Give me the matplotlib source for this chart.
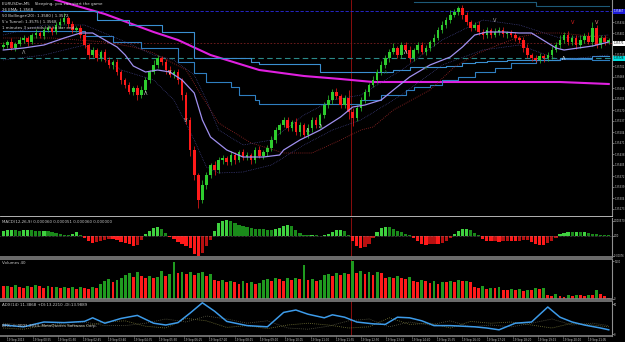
import numpy as np
import matplotlib.pyplot as plt

plt.rcParams["font.family"] = ["DejaVu Sans"]

# --- EURUSD M5 candles (close prices), first open ---
first_open = 1.35760
close = [
    1.35765, 1.35774, 1.35756, 1.35768, 1.35780,
    1.35786, 1.35774, 1.35795, 1.35801, 1.35792,
    1.35810, 1.35816, 1.35804, 1.35825, 1.35834,
    1.35846, 1.35828, 1.35810, 1.35816, 1.35795,
    1.35765, 1.35735, 1.35750, 1.35726, 1.35744,
    1.35720, 1.35705, 1.35714, 1.35684, 1.35660,
    1.35645, 1.35624, 1.35636, 1.35615, 1.35630,
    1.35660, 1.35684, 1.35705, 1.35726, 1.35714,
    1.35690, 1.35675, 1.35684, 1.35660, 1.35615,
    1.35540, 1.35450, 1.35375, 1.35300, 1.35345,
    1.35375, 1.35405, 1.35390, 1.35420, 1.35426,
    1.35414, 1.35435, 1.35420, 1.35444, 1.35429,
    1.35435, 1.35420, 1.35450, 1.35432, 1.35444,
    1.35456, 1.35480, 1.35510, 1.35525, 1.35540,
    1.35516, 1.35534, 1.35504, 1.35525, 1.35495,
    1.35516, 1.35540, 1.35525, 1.35555, 1.35585,
    1.35600, 1.35624, 1.35612, 1.35585, 1.35606,
    1.35564, 1.35546, 1.35576, 1.35600, 1.35624,
    1.35645, 1.35660, 1.35684, 1.35705, 1.35726,
    1.35744, 1.35756, 1.35735, 1.35765, 1.35750,
    1.35726, 1.35750, 1.35765, 1.35744, 1.35756,
    1.35774, 1.35786, 1.35810, 1.35825, 1.35840,
    1.35855, 1.35864, 1.35876, 1.35855, 1.35834,
    1.35816, 1.35825, 1.35804, 1.35795, 1.35810,
    1.35795, 1.35804, 1.35810, 1.35798, 1.35801,
    1.35795, 1.35786, 1.35780, 1.35756, 1.35735,
    1.35726, 1.35720, 1.35732, 1.35726, 1.35735,
    1.35750, 1.35765, 1.35780, 1.35795, 1.35774,
    1.35786, 1.35765, 1.35780, 1.35792, 1.35774,
    1.35816, 1.35765, 1.35786, 1.35774, 1.35780,
]
# wick lengths in points (1e-5)
wick_hi = [
    9, 6, 12, 5, 8, 10, 7, 6, 11, 5, 9, 8, 6, 10, 12, 15, 7, 9, 6, 8,
    12, 6, 9, 7, 5, 8, 10, 6, 9, 7, 5, 8, 6, 9, 12, 10, 7, 15, 9, 6,
    8, 11, 7, 9, 6, 10, 8, 12, 7, 15, 9, 6, 11, 8, 10, 7, 12, 9, 6, 8,
    10, 7, 9, 11, 6, 8, 12, 9, 7, 10, 8, 6, 11, 9, 7, 12, 8, 10, 6, 9,
    14, 8, 11, 7, 9, 25, 12, 8, 10, 9, 7, 11, 9, 12, 8, 10, 15, 7, 9, 8,
    11, 6, 9, 10, 8, 7, 12, 9, 11, 8, 14, 10, 7, 9, 8, 6, 10, 12, 8, 9,
    7, 11, 8, 9, 6, 10, 8, 7, 9, 12, 6, 8, 10, 7, 9, 11, 8, 15, 9, 12,
    10, 8, 14, 9, 11, 18, 9, 10, 8, 6,
]
wick_lo = [
    7, 10, 6, 9, 5, 8, 12, 6, 9, 7, 10, 5, 8, 6, 9, 7, 11, 8, 6, 10,
    9, 12, 7, 10, 8, 6, 9, 11, 8, 12, 10, 7, 9, 14, 8, 6, 10, 7, 9, 8,
    12, 6, 9, 11, 15, 12, 18, 14, 24, 10, 12, 8, 14, 9, 11, 8, 10, 12, 7, 9,
    8, 11, 9, 7, 10, 12, 8, 9, 11, 7, 10, 9, 8, 12, 7, 9, 11, 8, 10, 9,
    8, 12, 9, 10, 8, 22, 25, 10, 8, 9, 11, 7, 10, 8, 9, 12, 7, 10, 8, 9,
    11, 8, 10, 7, 9, 8, 12, 7, 9, 10, 8, 6, 9, 11, 8, 10, 7, 9, 12, 8,
    10, 7, 9, 8, 11, 6, 10, 9, 12, 8, 10, 7, 9, 11, 8, 12, 6, 9, 10, 8,
    9, 11, 8, 10, 7, 12, 9, 8, 10, 6,
]

# --- MACD histogram, points (1e-5) ---
macd_hist = [
    20, 22, 23, 21, 19, 22, 24, 21, 20, 18, 19, 17, 16,
    12, 9, 5, 3, 8, 13, 4,
    -8, -19, -27, -22, -19, -14, -10, -12, -15, -22, -27, -32, -38, -34, -15,
    8, 19, 30, 34, 27, 12,
    -4, -10, -22, -30, -38, -46, -68, -76, -65, -40, -15,
    20, 50, 58, 61, 57, 50, 42, 38, 34, 30, 28, 27, 25, 24, 23, 26, 30, 38,
    42, 36, 23, 12, 5, 3, 4, 2, 1, 3, 8, 15, 22, 23, 18, 4,
    -20, -38, -46, -42, -30, -8,
    15, 30, 34, 32, 27, 20, 14, 8, 4,
    -8, -20, -30, -34, -32, -30, -31, -27, -18, -6,
    8, 18, 25, 27, 22, 12, 4,
    -10, -19, -21, -20, -22, -21, -19, -20, -21, -18, -16, -14, -22, -30,
    -34, -34, -28, -18, -6,
    8, 12, 15, 14, 15, 13, 15, 12, 9, 6, 5, 3, 2,
]

# --- tick volumes ---
volume = [
    540, 560, 500, 580, 520, 470, 550, 510, 590, 530, 480, 560, 500, 520, 470,
    490, 450, 520, 430, 500, 470, 440, 510, 460,
    620, 760, 850, 700, 820, 900,
    1000, 1080, 920, 1150, 980,
    900, 960, 880, 940, 1170, 980, 1050, 1550,
    1100, 1160, 1050, 1120, 1000, 1080, 1130, 990, 1040,
    800, 760, 820, 720, 780,
    700, 650, 740, 680, 720, 640, 690,
    800, 860, 760, 900, 840, 780, 880, 820, 900, 860,
    1450, 800, 840, 780, 820,
    1000, 1060, 960, 1080, 1020, 1100, 1040,
    1600, 1100, 1180, 1050, 1120, 1000, 1150, 1080,
    900, 940, 870, 960, 900, 850, 920,
    780, 700, 820, 740, 680, 760, 650, 720, 700,
    760, 720, 800, 740, 780, 700,
    500, 460, 540, 420, 480, 450, 520,
    400, 380, 440, 360, 420, 350, 400, 380,
    460, 420, 480,
    180, 120, 200, 140, 100, 160, 130, 180,
    170, 140, 190, 160, 380, 200, 120, 40,
]

# --- ADX(14) ---
adx_bar = [0, 5, 10, 15, 20, 22, 25, 29, 33, 37, 40, 43, 46, 49, 52, 55, 60,
           65, 69, 72, 75, 79, 81, 84, 87, 91, 94, 97, 100, 103, 106, 110,
           113, 116, 119, 122, 126, 130, 134, 137, 140, 143, 147, 149]
adx_val = [15, 12, 20, 19, 21, 27, 18, 26, 31, 18, 15, 19, 35, 52, 38, 21, 14,
           12, 36, 40, 33, 27, 32, 28, 20, 17, 16, 28, 27, 22, 14, 14,
           13, 12, 10, 7, 18, 20, 45, 28, 20, 15, 10, 7]
di_bar = [0, 5, 10, 15, 20, 25, 30, 35, 40, 45, 50, 55, 60, 65, 70, 75, 80,
          85, 90, 95, 100, 105, 110, 115, 120, 125, 130, 135, 140, 145, 149]
di_plus = [10, 8, 14, 15, 13, 20, 22, 13, 10, 26, 22, 11, 14, 9, 15, 18, 15,
           10, 12, 27, 16, 18, 10, 21, 18, 20, 15, 10, 18, 15, 12]
di_minus = [18, 15, 13, 19, 20, 14, 14, 18, 25, 20, 30, 25, 18, 22, 10, 8, 13,
            22, 25, 12, 20, 15, 22, 12, 15, 12, 18, 25, 15, 18, 14]

# --- moving averages / channels on the price chart ---
ma_fast_bar = [0, 5, 10, 15, 19, 22, 25, 28, 30, 32, 35, 38, 41, 44, 47, 49,
               51, 55, 59, 64, 68, 69, 73, 78, 83, 86, 89, 93, 96, 100, 105,
               110, 113, 116, 119, 123, 127, 130, 132, 136, 138, 145, 149]
ma_fast = [1.35750, 1.35756, 1.35765, 1.35786, 1.35801, 1.35801, 1.35780,
           1.35759, 1.35735, 1.35702, 1.35684, 1.35690, 1.35684, 1.35660,
           1.35621, 1.35540, 1.35489, 1.35450, 1.35429, 1.35429, 1.35435,
           1.35450, 1.35480, 1.35510, 1.35549, 1.35579, 1.35585, 1.35600,
           1.35630, 1.35669, 1.35705, 1.35729, 1.35759, 1.35795, 1.35804,
           1.35804, 1.35801, 1.35801, 1.35786, 1.35756, 1.35750, 1.35762,
           1.35774]
ma_slow_bar = [0, 12, 25, 32, 37, 45, 49, 53, 61, 69, 76, 83, 88, 91, 96, 105,
               111, 117, 123, 127, 132, 137, 149]
ma_slow = [1.35786, 1.35786, 1.35774, 1.35759, 1.35741, 1.35690, 1.35609,
           1.35531, 1.35471, 1.35441, 1.35441, 1.35480, 1.35510, 1.35519,
           1.35570, 1.35630, 1.35699, 1.35741, 1.35771, 1.35789, 1.35801,
           1.35801, 1.35786]
ma_long_bar = [8, 13, 25, 37, 43, 51, 63, 74, 83, 91, 103, 123, 137, 149]
ma_long = [1.35924, 1.35900, 1.35858, 1.35804, 1.35780, 1.35735, 1.35690,
           1.35672, 1.35663, 1.35654, 1.35654, 1.35654, 1.35654, 1.35648]
env_bar = [0, 10, 20, 29, 37, 42, 47, 50, 53, 59, 66, 74, 81, 88, 98, 108,
           118, 127, 137, 149]
env_low = [1.35720, 1.35735, 1.35765, 1.35690, 1.35660, 1.35600, 1.35480,
           1.35399, 1.35381, 1.35384, 1.35405, 1.35465, 1.35510, 1.35540,
           1.35615, 1.35705, 1.35750, 1.35765, 1.35720, 1.35735]
env_up = [1.35795, 1.35825, 1.35825, 1.35780, 1.35735, 1.35720, 1.35675,
          1.35600, 1.35510, 1.35465, 1.35480, 1.35555, 1.35600, 1.35615,
          1.35690, 1.35780, 1.35840, 1.35825, 1.35786, 1.35795]
chan_a_bar = [0, 20, 27, 34, 43, 47, 50, 56, 58, 62, 63, 88, 93, 99, 101, 105,
              108, 112, 116, 121, 125, 131, 137, 145, 149]
chan_a = [1.35807, 1.35792, 1.35774, 1.35756, 1.35714, 1.35681, 1.35654,
          1.35639, 1.35615, 1.35600, 1.35588, 1.35600, 1.35615, 1.35630,
          1.35639, 1.35645, 1.35660, 1.35669, 1.35684, 1.35696, 1.35711,
          1.35720, 1.35723, 1.35720, 1.35720]
chan_b_bar = [0, 23, 31, 39, 47, 61, 63, 78, 96, 100, 109, 113, 116, 119, 124,
              137, 145, 149]
chan_b = [1.35867, 1.35840, 1.35825, 1.35804, 1.35726, 1.35714, 1.35708,
          1.35684, 1.35690, 1.35699, 1.35702, 1.35711, 1.35714, 1.35717,
          1.35720, 1.35726, 1.35732, 1.35732]
chan_c_bar = [101, 131, 149]
chan_c = [1.35894, 1.35882, 1.35882]

# horizontal levels
level_blue = 1.35867
level_red = 1.35771
level_teal = 1.35726

# arrow signals: bar, price, glyph, colour
sig_bar = [5, 35, 41, 45, 75, 78, 94, 99, 104, 121, 138, 140, 146]
sig_price = [1.35741, 1.35621, 1.35681, 1.35540, 1.35510, 1.35522, 1.35684,
             1.35744, 1.35696, 1.35840, 1.35726, 1.35834, 1.35834]
sig_glyph = ["Λ", "Λ", "V", "V", "Λ", "Λ", "Λ", "Λ", "Λ", "V", "Λ", "V", "V"]
sig_color = ["#b0b0b0", "#e0e0e0", "#e0e0e0", "#c0c0c0", "#c0c0c0", "#e0e0e0",
             "#1f7a1f", "#ffffff", "#1f7a1f", "#b0b0b0", "#ffffff", "#e02020",
             "#ff8080"]

marker_bar = 85.5  # red vertical line

price_ticks = [1.35867, 1.35834, 1.35801, 1.35768, 1.35735, 1.35702, 1.35669,
               1.35636, 1.35603, 1.35570, 1.35537, 1.35504, 1.35471, 1.35438,
               1.35405, 1.35372, 1.35339, 1.35306, 1.35273]
time_labels = ["19 Sep 2013", "19 Sep 00:55", "19 Sep 01:50", "19 Sep 02:45",
               "19 Sep 03:40", "19 Sep 04:35", "19 Sep 05:30", "19 Sep 06:25",
               "19 Sep 07:20", "19 Sep 08:15", "19 Sep 09:10", "19 Sep 10:05",
               "19 Sep 11:00", "19 Sep 11:55", "19 Sep 12:50", "19 Sep 13:45",
               "19 Sep 14:40", "19 Sep 15:35", "19 Sep 16:30", "19 Sep 17:25",
               "19 Sep 18:20", "19 Sep 19:15", "19 Sep 20:10", "19 Sep 21:05"]
info_lines = ["EURUSDm,M5    Sleeping, you can start the game",
              "26 EMA: 1.3568",
              "50 Bollinger(20): 1.3580 | 1.3572",
              "5'x Tunnel: 1.3575 | 1.3568",
              "1 minutes 3 seconds left to bar end"]

GRID = "#808080"
TXT = "#c8c8c8"
AX_FS = 1.8


def style(ax, n):
    ax.set_facecolor("black")
    ax.set_xlim(-0.8, n - 0.2)
    ax.spines["left"].set_visible(False)
    ax.spines["right"].set_color("#909090")
    ax.spines["right"].set_linewidth(0.8)
    for s in ("top", "bottom"):
        ax.spines[s].set_color(GRID)
        ax.spines[s].set_linewidth(1.2)
    ax.yaxis.tick_right()
    ax.tick_params(axis="y", colors=TXT, labelsize=AX_FS, length=1.2,
                   width=0.4, pad=0.4)
    ax.tick_params(axis="x", bottom=False, labelbottom=False)
    ax.axvline(marker_bar, color="#a01010", lw=0.6, zorder=1)


def main():
    n = len(close)
    x = np.arange(n)
    c = np.array(close)
    o = np.concatenate([[first_open], c[:-1]])
    hi = np.maximum(o, c) + np.array(wick_hi) * 1e-5
    lo = np.minimum(o, c) - np.array(wick_lo) * 1e-5
    up = c >= o
    ccol = np.where(up, "#2ecc2e", "#ff1a1a")

    fig = plt.figure(figsize=(6.25, 3.42), dpi=100, facecolor="black")
    W = 612 / 625
    H = 342
    ax = fig.add_axes([0, 1 - 216 / H, W, 216 / H])
    ax_m = fig.add_axes([0, 1 - 257 / H, W, 39 / H])
    ax_v = fig.add_axes([0, 1 - 299 / H, W, 40 / H])
    ax_a = fig.add_axes([0, 1 - 336 / H, W, 35 / H])
    for a in (ax, ax_m, ax_v, ax_a):
        style(a, n)

    # ---- price panel ----
    ax.set_ylim(1.35252, 1.35900)
    ax.spines["top"].set_visible(False)
    ax.spines["bottom"].set_color("#d0d0d0")
    ax.spines["bottom"].set_linestyle((0, (1, 1)))
    ax.spines["bottom"].set_linewidth(0.6)

    ax.axhline(level_blue, color="#2a2ae0", lw=0.6, ls=(0, (4, 2)), zorder=1)
    ax.axhline(level_red, color="#7a2020", lw=0.6, ls=(0, (2, 2)), zorder=1)
    ax.axhline(level_teal, color="#2a8a8a", lw=0.8, ls=(0, (5, 3)), zorder=1)

    ax.plot(ma_long_bar, ma_long, color="#e020e0", lw=1.5, zorder=2)
    ax.plot(chan_a_bar, chan_a, color="#2f7fc0", lw=0.8,
            drawstyle="steps-post", zorder=2)
    ax.plot(chan_b_bar, chan_b, color="#3a8fd0", lw=0.8,
            drawstyle="steps-post", zorder=2)
    ax.plot(chan_c_bar, chan_c, color="#1d5a78", lw=0.8,
            drawstyle="steps-post", zorder=2)
    ax.plot(ma_slow_bar, ma_slow, color="#a02828", lw=0.6, ls=(0, (1, 1.5)),
            zorder=2)
    ax.plot(env_bar, env_low, color="#4b4b9b", lw=0.5, ls=(0, (1, 1.5)),
            zorder=2)
    ax.plot(env_bar, env_up, color="#4b4b9b", lw=0.5, ls=(0, (1, 1.5)),
            zorder=2)

    ax.vlines(x, lo, hi, colors=ccol, lw=0.5, zorder=3)
    body = np.maximum(np.abs(c - o), 0.000012)
    ax.bar(x, body, bottom=np.minimum(o, c), width=0.62, color=ccol,
           linewidth=0, zorder=3)

    ax.plot(ma_fast_bar, ma_fast, color="#a090f0", lw=0.9, zorder=4)

    for b, p, g, col in zip(sig_bar, sig_price, sig_glyph, sig_color):
        ax.text(b, p, g, color=col, fontsize=3.6, ha="center", va="center",
                zorder=5)

    ax.set_yticks(price_ticks)
    ax.set_yticklabels([f"{v:.5f}" for v in price_ticks])
    ytr = ax.get_yaxis_transform()
    for val, fc, tc in ((level_blue, "#1c1cd8", "white"),
                        (level_red, "white", "black"),
                        (level_teal, "#00e0e0", "black")):
        ax.text(1.003, val, f"{val:.5f}", transform=ytr, fontsize=AX_FS,
                color=tc, va="center", ha="left", clip_on=False,
                bbox=dict(boxstyle="square,pad=0.2", fc=fc, ec="none"))

    for k, line in enumerate(info_lines):
        ax.text(0.004, 0.992 - k * 0.028, line, transform=ax.transAxes,
                fontsize=2.9, color="#d8d8d8", va="top", ha="left")

    # ---- MACD panel ----
    h = np.array(macd_hist) * 1e-5
    prev = np.concatenate([[h[0]], h[:-1]])
    mcol = np.where(h >= 0,
                    np.where(h >= prev, "#3fd13f", "#1a8a1a"),
                    np.where(h <= prev, "#ff1a1a", "#b81010"))
    ax_m.bar(x, h, width=0.8, color=mcol, linewidth=0, zorder=2)
    ax_m.set_ylim(-0.00080, 0.00068)
    ax_m.axhline(0, color="#9a9a9a", lw=0.4, ls=(0, (1, 1.5)), zorder=3)
    ax_m.spines["top"].set_visible(False)
    ax_m.set_yticks([0.00057, 0.0, -0.00076])
    ax_m.set_yticklabels(["0.000570", "0.00", "-0.00076"])
    ax_m.text(0.004, 0.95, "MACD(12,26,9) 0.000060 0.000051 0.000060 0.000000",
              transform=ax_m.transAxes, fontsize=2.9, color=TXT, va="top")

    # ---- Volume panel ----
    v = np.array(volume)
    vprev = np.concatenate([[v[0]], v[:-1]])
    vcol = np.where(v > vprev, "#1f9a1f", "#ff1a1a")
    ax_v.bar(x, v, width=0.7, color=vcol, linewidth=0, zorder=2)
    ax_v.set_ylim(0, 1690)
    ax_v.set_yticks([1600, 0])
    ax_v.set_yticklabels(["1600", "0"])
    ax_v.text(0.004, 0.95, "Volumes 40", transform=ax_v.transAxes,
              fontsize=2.9, color=TXT, va="top")

    # ---- ADX panel ----
    ax_a.plot(di_bar, di_plus, color="#7a7a3a", lw=0.6, ls=(0, (1, 1.5)),
              zorder=2)
    ax_a.plot(di_bar, di_minus, color="#5a5a45", lw=0.6, ls=(0, (1, 1.5)),
              zorder=2)
    ax_a.plot(adx_bar, adx_val, color="#3d9be9", lw=1.1, zorder=3)
    ax_a.set_ylim(-3.3, 55)
    ax_a.set_yticks([50, 0])
    ax_a.set_yticklabels(["50", "0"])
    ax_a.text(0.004, 0.95, "ADX(14) 11.3868 +DI:13.2210 -DI:13.9889",
              transform=ax_a.transAxes, fontsize=2.9, color=TXT, va="top")
    ax_a.text(0.004, 0.33, "BFX, \u00a9 2001-2013, MetaQuotes Software Corp.",
              transform=ax_a.transAxes, fontsize=2.9, color=TXT, va="top")
    ax_a.set_xticks(np.linspace(1.0, n - 6, len(time_labels)))
    ax_a.set_xticklabels(time_labels)
    ax_a.tick_params(axis="x", bottom=True, labelbottom=True, colors=TXT,
                     labelsize=2.0, length=1, width=0.4, pad=0.4)
    for lab in ax_a.get_xticklabels():
        lab.set_ha("left")

    fig.savefig("out.png", dpi=100, facecolor="black")


if __name__ == "__main__":
    main()
